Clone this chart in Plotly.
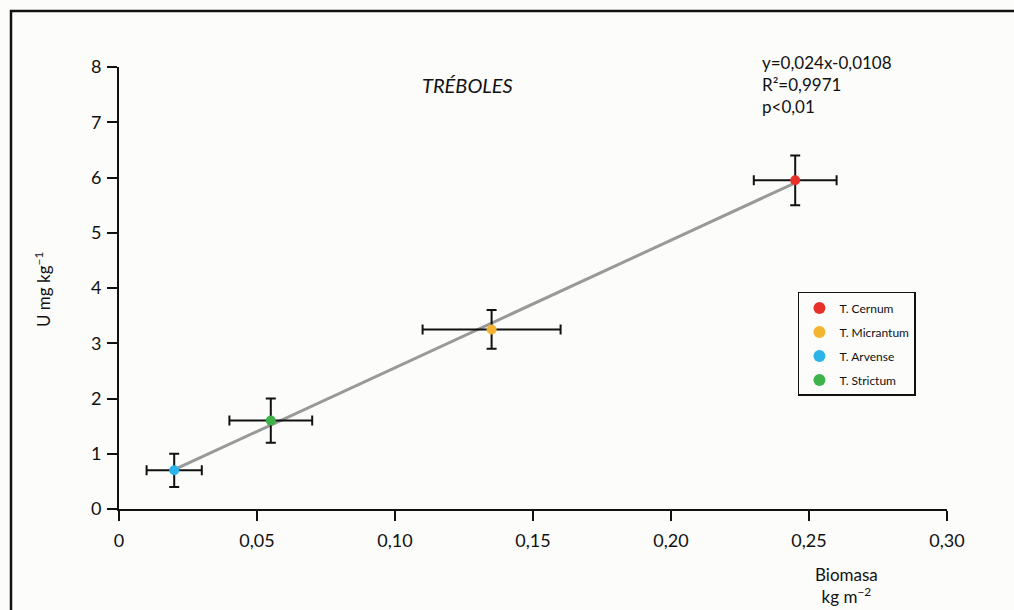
import numpy as np
import plotly.graph_objects as go

# Species measurements: biomass (kg m^-2) vs uranium content (mg kg^-1)
species = ["T. Cernum", "T. Micrantum", "T. Arvense", "T. Strictum"]
biomasa = [0.245, 0.135, 0.020, 0.055]
biomasa_err = [0.015, 0.025, 0.010, 0.015]
uranio = [5.95, 3.25, 0.70, 1.60]
uranio_err = [0.45, 0.35, 0.30, 0.40]
colors = ["#e8302a", "#f5b42f", "#2bb3ea", "#3db34a"]

x_ticks = [0, 0.05, 0.10, 0.15, 0.20, 0.25, 0.30]
x_tick_labels = ["0", "0,05", "0,10", "0,15", "0,20", "0,25", "0,30"]
y_ticks = [0, 1, 2, 3, 4, 5, 6, 7, 8]

equation_lines = ["y=0,024x-0,0108", "R²=0,9971", "p<0,01"]

FONT = "Lato"

fig = go.Figure()

# Least-squares regression line spanning the observed biomass range
slope, intercept = np.polyfit(biomasa, uranio, 1)
fit_x = np.array([min(biomasa), max(biomasa)])
fig.add_trace(go.Scatter(
    x=fit_x, y=slope * fit_x + intercept, mode="lines",
    line=dict(color="#999999", width=3), showlegend=False, hoverinfo="skip",
))

for i, name in enumerate(species):
    fig.add_trace(go.Scatter(
        x=[biomasa[i]], y=[uranio[i]], mode="markers", name=name,
        legendgroup=name,
        marker=dict(color=colors[i], size=10),
        error_x=dict(type="data", array=[biomasa_err[i]], color="#111111",
                     thickness=2, width=5),
        error_y=dict(type="data", array=[uranio_err[i]], color="#111111",
                     thickness=2, width=5),
    ))

axis_common = dict(
    showgrid=False, zeroline=False, showline=True, linecolor="#111111",
    linewidth=2, ticks="outside", ticklen=10, tickwidth=2,
    tickcolor="#111111", tickfont=dict(size=18),
)

fig.update_layout(
    width=1014, height=610,
    margin=dict(l=119, r=67, t=67, b=101, autoexpand=False),
    paper_bgcolor="#fcfcfb", plot_bgcolor="#fcfcfb",
    font=dict(family=FONT, size=17, color="#111111"),
    showlegend=True,
    legend=dict(
        x=0.82, y=0.491, xanchor="left", yanchor="top",
        bordercolor="#111111", borderwidth=1.5, bgcolor="#fcfcfb",
        font=dict(family=FONT, size=12, color="#111111"),
        tracegroupgap=5, itemsizing="constant", itemwidth=30,
    ),
    xaxis=dict(range=[0, 0.30], tickvals=x_ticks, ticktext=x_tick_labels,
               ticklabelstandoff=4, **axis_common),
    yaxis=dict(range=[0, 8], tickvals=y_ticks, ticklabelstandoff=2,
               **axis_common),
)

# Frame around the figure
fig.add_shape(type="rect", xref="paper", yref="paper",
              x0=(11 - 119) / 828, x1=1.2, y0=-0.3, y1=(509 - 11) / 442,
              line=dict(color="#111111", width=2.5), layer="below")

# Title inside the plot
fig.add_annotation(text="<i>TRÉBOLES</i>", xref="paper", yref="paper",
                   x=(467 - 119) / 828, y=(509 - 85) / 442,
                   xanchor="center", yanchor="middle", showarrow=False,
                   font=dict(size=20))

# Regression statistics
fig.add_annotation(text="<br>".join(equation_lines), xref="paper", yref="paper",
                   x=(760 - 119) / 828, y=(509 - 50) / 442, xanchor="left",
                   yanchor="top", align="left", showarrow=False,
                   font=dict(size=17))

# Axis titles
fig.add_annotation(text="U mg kg<sup>−1</sup>", xref="paper", yref="paper",
                   x=(42 - 119) / 828, y=(509 - 290) / 442, textangle=-90,
                   xanchor="center", yanchor="middle",
                   showarrow=False, font=dict(size=17))
fig.add_annotation(text="Biomasa<br>kg m<sup>−2</sup>", xref="paper", yref="paper",
                   x=(880 - 119) / 828, y=(509 - 562) / 442, yanchor="top",
                   align="center", showarrow=False, font=dict(size=17))

fig.write_html("out.html")
